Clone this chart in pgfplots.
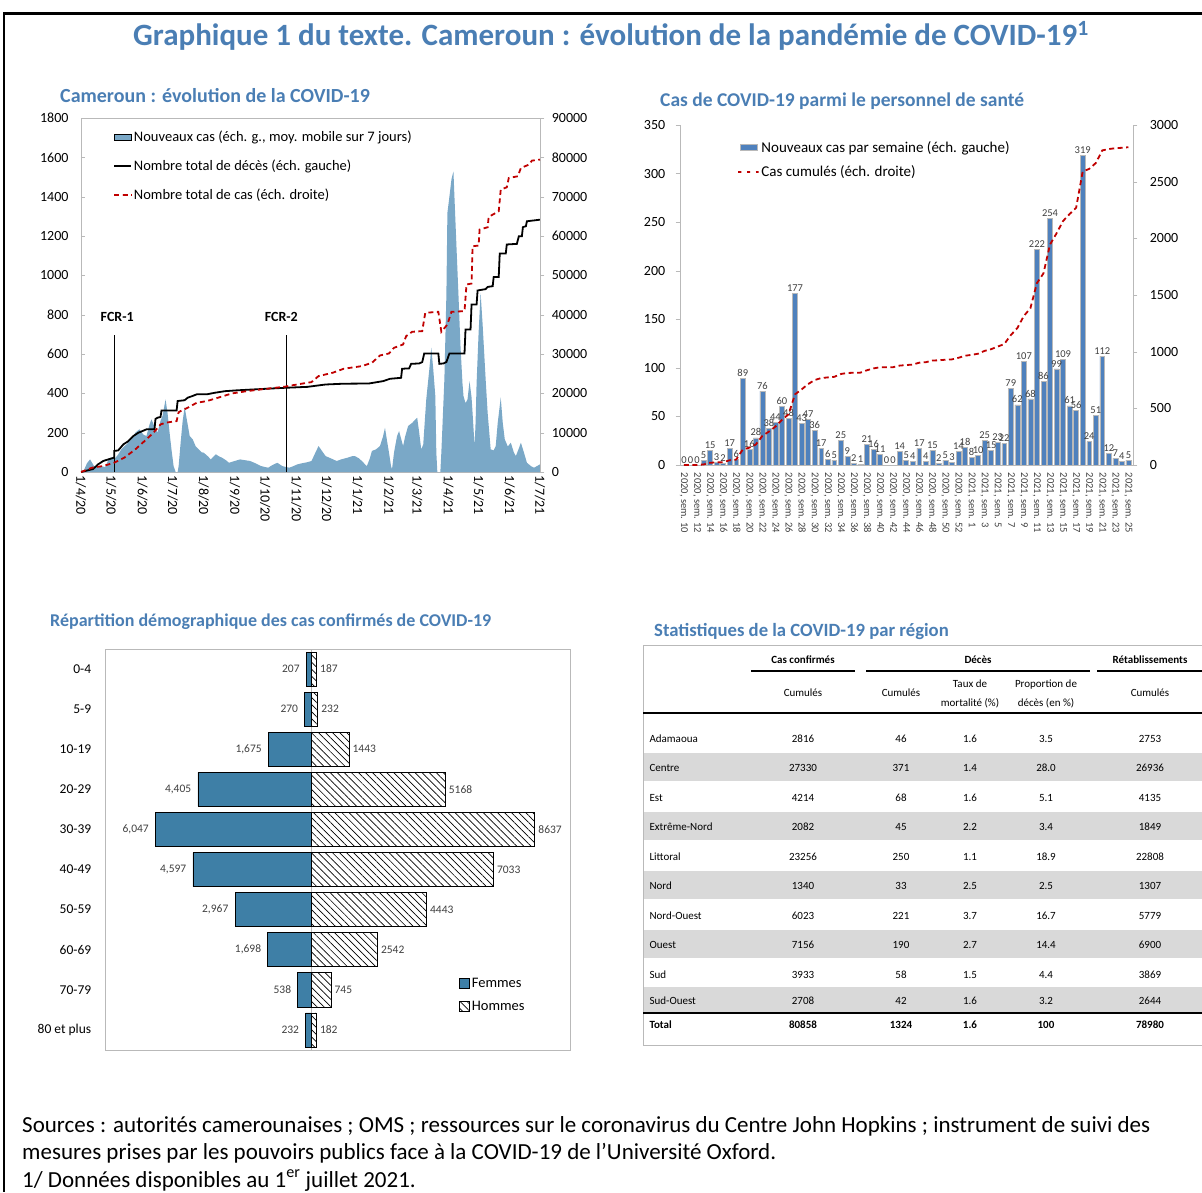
\documentclass[border=0pt]{standalone}
\usepackage{fontspec}
\setmainfont{Carlito}
\usepackage{pgfplots}
\pgfplotsset{compat=1.18}
\usetikzlibrary{patterns.meta}

\definecolor{titleblue}{RGB}{74,126,180}
\definecolor{areablue}{RGB}{122,168,199}
\definecolor{barblue}{RGB}{79,129,189}
\definecolor{femblue}{RGB}{62,127,166}
\definecolor{darkred}{RGB}{192,0,0}
\definecolor{axgray}{RGB}{185,185,185}
\definecolor{bandgray}{RGB}{217,217,217}
\definecolor{lblgray}{RGB}{64,64,64}

\newcommand{\fsz}[2]{\fontsize{#1}{#2}\selectfont}

\pgfplotsset{
  /pgf/number format/assume math mode=true,
  every axis/.append style={
    scale only axis,
    axis line style={axgray},
    tick style={axgray},
    tick label style={font=\fsz{14}{16}},
    scaled y ticks=false,
    yticklabel style={/pgf/number format/fixed,/pgf/number format/1000 sep={}},
  },
}

% table row: y, name, 5 values
\newcommand{\trow}[7]{%
  \node[anchor=base west] at (646pt,-#1pt) {#2};
  \node[anchor=base] at (803pt,-#1pt) {#3};
  \node[anchor=base] at (901pt,-#1pt) {#4};
  \node[anchor=base] at (970pt,-#1pt) {#5};
  \node[anchor=base] at (1046pt,-#1pt) {#6};
  \node[anchor=base] at (1150pt,-#1pt) {#7};
}

\begin{document}
\begin{tikzpicture}
\useasboundingbox (0pt,0pt) rectangle (1202pt,-1192pt);
\draw[line width=3pt] (3pt,-13pt) -- (1202pt,-13pt);
\draw[line width=1.5pt] (4pt,-12pt) -- (4pt,-1192pt);

\node[anchor=base, inner sep=0pt, font=\bfseries\fsz{31}{34}, text=titleblue] at (611pt,-45pt)
  {Graphique 1 du texte. Cameroun : évolution de la pandémie de COVID-19\textsuperscript{1}};

% ---------------- chart 1 ----------------
\node[anchor=base west, inner sep=0pt, font=\bfseries\fsz{20}{22}, text=titleblue] at (60pt,-102pt)
  {Cameroun : évolution de la COVID-19};

\begin{axis}[
  at={(81pt,-472pt)}, anchor=south west,
  width=459pt, height=354pt,
  xmin=0, xmax=456, ymin=0, ymax=1800,
  ytick={0,200,...,1800}, ytick pos=left,
  yticklabel style={xshift=-9pt},
  xtick={0,30,61,91,122,153,183,214,244,275,306,334,365,395,426,456},
  xticklabels={1/4/20,1/5/20,1/6/20,1/7/20,1/8/20,1/9/20,1/10/20,1/11/20,1/12/20,1/1/21,1/2/21,1/3/21,1/4/21,1/5/21,1/6/21,1/7/21},
  xtick pos=bottom,
  xticklabel style={rotate=-90, anchor=west},
  tick align=inside,
  legend style={at={(0.063,0.975)}, anchor=north west, draw=none, fill=none,
    font=\fsz{14.5}{16}, row sep=13pt},
  legend cell align=left,
]
\addplot[fill=areablue, draw=none, area legend] coordinates {
(0,0) (3,10) (6,45) (9,64) (13,30) (17,22) (20,30) (24,25) (27,60) (30,75) (33,64) (37,90)
(40,115) (45,140) (50,166) (54,200) (58,217) (62,190) (65,183) (68,240) (70,268) (73,230)
(76,200) (79,260) (81,285) (84,369) (86,300) (88,200) (90,110) (92,30) (94,0) (96,0)
(97,30) (99,150) (101,260) (103,330) (105,270) (108,183) (111,166) (114,130) (117,115)
(120,100) (122,98) (126,80) (129,64) (132,80) (134,90) (137,80) (140,73) (144,60) (147,47)
(152,55) (158,64) (163,60) (168,56) (173,45) (179,30) (183,25) (186,22) (190,35) (195,47)
(200,30) (204,25) (207,22) (211,30) (215,39) (220,45) (225,50) (229,56) (233,100) (236,132)
(239,110) (243,81) (248,70) (254,56) (259,65) (265,73) (269,80) (272,81) (276,70) (279,56)
(282,40) (284,30) (287,70) (289,107) (293,115) (297,132) (300,180) (302,225) (304,160)
(306,98) (308,30) (309,14) (311,100) (314,183) (316,208) (318,170) (320,132) (322,180)
(325,234) (329,250) (334,276) (336,200) (338,115) (340,140) (343,369) (346,520) (348,632)
(350,520) (352,386) (353,100) (354,0) (357,0) (358,100) (361,471) (363,900) (364,1317)
(366,1400) (368,1487) (370,1529) (371,1400) (373,1148) (375,900) (377,640) (379,450)
(380,386) (382,350) (384,369) (386,462) (388,380) (389,301) (391,132) (392,250) (393,450)
(395,708) (397,911) (399,750) (402,471) (404,300) (407,115) (410,110) (412,132) (414,250)
(417,378) (419,250) (421,166) (424,130) (427,149) (430,100) (432,81) (435,120) (437,149)
(440,100) (443,47) (447,30) (450,22) (453,30) (456,39)
} \closedcycle;
\addlegendentry{Nouveaux cas (éch. g., moy. mobile sur 7 jours)}
\addplot[black, line width=1.8pt] coordinates {
(0,0) (8,10) (12,15) (17,39) (22,56) (27,64) (33,73) (33,107) (37,110) (42,140) (47,157)
(52,183) (57,200) (61,208) (65,217) (73,217) (74,270) (76,276) (79,280) (80,313) (95,313)
(96,361) (103,365) (106,378) (110,385) (115,395) (125,395) (133,403) (143,411) (154,415)
(172,420) (202,428) (225,433) (243,445) (261,449) (286,450) (300,462) (307,474) (318,479)
(319,525) (326,527) (328,550) (336,552) (339,559) (341,603) (355,603) (356,550) (360,552)
(363,559) (366,603) (381,603) (382,725) (387,725) (388,852) (393,852) (394,923) (402,930)
(404,941) (409,945) (410,992) (415,992) (416,1111) (422,1111) (423,1157) (433,1160)
(435,1199) (438,1199) (439,1245) (442,1250) (443,1275) (456,1283)
};
\addlegendentry{Nombre total de décès (éch. gauche)}
\addlegendimage{line legend, darkred, line width=1.8pt, dash pattern=on 5pt off 3.5pt}
\addlegendentry{Nombre total de cas (éch. droite)}
\draw[black, line width=1.2pt] (axis cs:33,0) -- (axis cs:33,697);
\draw[black, line width=1.2pt] (axis cs:204,0) -- (axis cs:204,697);
\node[font=\bfseries\fsz{14}{16}] at (axis cs:36,790) {FCR-1};
\node[font=\bfseries\fsz{14}{16}] at (axis cs:199,790) {FCR-2};
\end{axis}

\begin{axis}[
  at={(81pt,-472pt)}, anchor=south west,
  width=459pt, height=354pt,
  xmin=0, xmax=456, ymin=0, ymax=90000,
  axis x line=none, axis y line*=right,
  ytick={0,10000,...,90000},
  yticklabel style={xshift=4pt},
  tick align=outside,
]
\addplot[darkred, line width=1.8pt, dash pattern=on 5pt off 3.5pt] coordinates {
(0,0) (11,1100) (22,1524) (33,2370) (43,3640) (54,5760) (65,8300) (72,10000) (77,11500)
(79,12100) (84,12530) (95,12950) (97,15200) (99,15500) (106,16340) (115,17610) (125,18030)
(136,18880) (150,19980) (165,20570) (179,21000) (202,21675) (215,22270) (229,22860)
(236,24385) (250,25230) (261,26250) (279,26925) (289,27770) (297,29630) (306,30140)
(311,31580) (320,32430) (323,34540) (329,35650) (339,35820) (342,40470) (355,40730)
(358,35650) (364,37500) (368,40730) (381,40900) (383,47670) (388,47920) (389,57400)
(395,57570) (396,61640) (404,62230) (405,64860) (415,66300) (417,71800) (423,72390)
(425,74760) (434,75190) (437,77300) (445,78150) (448,79170) (456,79420)
};
\end{axis}

% ---------------- chart 2 ----------------
\node[anchor=base west, inner sep=0pt, font=\bfseries\fsz{19.5}{22}, text=titleblue] at (660pt,-106pt)
  {Cas de COVID-19 parmi le personnel de santé};

\begin{axis}[
  at={(680pt,-465pt)}, anchor=south west,
  width=453pt, height=340pt,
  xmin=-0.6, xmax=68.7, ymin=0, ymax=350,
  axis x line*=bottom, axis y line*=left,
  ytick={0,50,...,350},
  yticklabel style={xshift=-7pt},
  tick align=outside,
  xtick={0,2,...,68},
  xticklabels={{2020, sem. 10},{2020, sem. 12},{2020, sem. 14},{2020, sem. 16},{2020, sem. 18},
    {2020, sem. 20},{2020, sem. 22},{2020, sem. 24},{2020, sem. 26},{2020, sem. 28},{2020, sem. 30},
    {2020, sem. 32},{2020, sem. 34},{2020, sem. 36},{2020, sem. 38},{2020, sem. 40},{2020, sem. 42},
    {2020, sem. 44},{2020, sem. 46},{2020, sem. 48},{2020, sem. 50},{2020, sem. 52},
    {2021, sem. 1},{2021, sem. 3},{2021, sem. 5},{2021, sem. 7},{2021, sem. 9},{2021, sem. 11},
    {2021, sem. 13},{2021, sem. 15},{2021, sem. 17},{2021, sem. 19},{2021, sem. 21},{2021, sem. 23},
    {2021, sem. 25}},
  xticklabel style={rotate=-90, anchor=west, font=\fsz{10.5}{12}, text=lblgray},
  xtick style={draw=none},
  ybar, bar width=0.75,
  nodes near coords,
  every node near coord/.append style={font=\fsz{10.5}{12}, text=lblgray, inner sep=1.5pt},
  legend style={at={(0.12,0.965)}, anchor=north west, draw=none, fill=none,
    font=\fsz{15}{17}, row sep=8pt},
  legend cell align=left,
]
\addplot[fill=barblue, draw=axgray, line width=0.5pt, area legend] coordinates {
(0,0) (1,0) (2,0) (3,5) (4,15) (5,3) (6,2) (7,17) (8,6) (9,89) (10,16) (11,28) (12,76)
(13,38) (14,44) (15,60) (16,48) (17,177) (18,43) (19,47) (20,36) (21,17) (22,6) (23,5)
(24,25) (25,9) (26,2) (27,1) (28,21) (29,16) (30,11) (31,0) (32,0) (33,14) (34,5) (35,4)
(36,17) (37,4) (38,15) (39,2) (40,5) (41,3) (42,14) (43,18) (44,8) (45,10) (46,25) (47,15)
(48,23) (49,22) (50,79) (51,62) (52,107) (53,68) (54,222) (55,86) (56,254) (57,99) (58,109)
(59,61) (60,56) (61,319) (62,24) (63,51) (64,112) (65,12) (66,7) (67,4) (68,5)
};
\addlegendentry{Nouveaux cas par semaine (éch. gauche)}
\addlegendimage{line legend, darkred, line width=1.8pt, dash pattern=on 5pt off 3.5pt}
\addlegendentry{Cas cumulés (éch. droite)}
\end{axis}

\begin{axis}[
  at={(680pt,-465pt)}, anchor=south west,
  width=453pt, height=340pt,
  xmin=-0.6, xmax=68.7, ymin=0, ymax=3000,
  axis x line=none, axis y line*=right,
  ytick={0,500,...,3000},
  yticklabel style={xshift=9pt},
  tick align=outside,
]
\addplot[darkred, line width=1.8pt, dash pattern=on 5pt off 3.5pt] coordinates {
(0,0) (1,0) (2,0) (3,5) (4,20) (5,23) (6,25) (7,42) (8,48) (9,137) (10,153) (11,181)
(12,257) (13,295) (14,339) (15,399) (16,447) (17,624) (18,667) (19,714) (20,750) (21,767)
(22,773) (23,778) (24,803) (25,812) (26,814) (27,815) (28,836) (29,852) (30,863) (31,863)
(32,863) (33,877) (34,882) (35,886) (36,903) (37,907) (38,922) (39,924) (40,929) (41,932)
(42,946) (43,964) (44,972) (45,982) (46,1007) (47,1022) (48,1045) (49,1067) (50,1146)
(51,1208) (52,1315) (53,1383) (54,1605) (55,1691) (56,1945) (57,2044) (58,2153) (59,2214)
(60,2270) (61,2589) (62,2613) (63,2664) (64,2776) (65,2788) (66,2795) (67,2799) (68,2804)
};
\end{axis}

% ---------------- chart 3 ----------------
\node[anchor=base west, inner sep=0pt, font=\bfseries\fsz{18}{20}, text=titleblue] at (50pt,-626pt)
  {Répartition démographique des cas confirmés de COVID-19};

\begin{axis}[
  at={(105pt,-1050pt)}, anchor=south west,
  width=465pt, height=401pt,
  xmin=-8000, xmax=10000, ymin=-0.5, ymax=9.5,
  xbar, bar width=0.85,
  xtick=\empty,
  ytick={0,...,9},
  yticklabels={80 et plus,70-79,60-69,50-59,40-49,30-39,20-29,10-19,5-9,0-4},
  yticklabel style={font=\fsz{13.5}{15}, xshift=-6pt},
  ytick style={draw=none},
  extra x ticks={0}, extra x tick labels={},
  extra x tick style={grid=major, major grid style={axgray, line width=0.8pt}, tick style={draw=none}},
  point meta=explicit symbolic,
  nodes near coords,
  legend style={at={(0.755,0.19)}, anchor=north west, draw=none, fill=none,
    font=\fsz{14.5}{16}, row sep=8pt},
  legend cell align=left,
  legend image code/.code={\draw[#1, line width=0.6pt] (0pt,-5pt) rectangle (10pt,5pt);},
]
\addplot[fill=femblue, draw=black, line width=0.7pt, bar shift=0pt,
  every node near coord/.append style={anchor=east, font=\fsz{11.5}{13}, text=lblgray, xshift=-3pt}]
  coordinates {
  (-232,0) [232] (-538,1) [538] (-1698,2) [{1,698}] (-2967,3) [{2,967}] (-4597,4) [{4,597}]
  (-6047,5) [{6,047}] (-4405,6) [{4,405}] (-1675,7) [{1,675}] (-270,8) [270] (-207,9) [207]
};
\addlegendentry{Femmes}
\addplot[pattern={Lines[angle=-45,distance=5pt,line width=0.7pt]}, draw=black, line width=0.7pt,
  bar shift=0pt,
  every node near coord/.append style={anchor=west, font=\fsz{11.5}{13}, text=lblgray}]
  coordinates {
  (182,0) [182] (745,1) [745] (2542,2) [2542] (4443,3) [4443] (7033,4) [7033]
  (8637,5) [8637] (5168,6) [5168] (1443,7) [1443] (232,8) [232] (187,9) [187]
};
\addlegendentry{Hommes}
\end{axis}

% ---------------- table ----------------
\node[anchor=base west, inner sep=0pt, font=\bfseries\fsz{18.7}{21}, text=titleblue] at (654pt,-636pt)
  {Statistiques de la COVID-19 par région};
\draw[axgray, line width=0.8pt] (643pt,-645pt) rectangle (1202pt,-1045pt);
\foreach \ya/\yb in {753/781, 812/840, 871/899, 930/958, 987/1013}
  \fill[bandgray] (644pt,-\ya pt) rectangle (1202pt,-\yb pt);
\begin{scope}[font=\fsz{11}{13}]
\node[anchor=base, font=\bfseries\fsz{11}{13}] at (803pt,-663pt) {Cas confirmés};
\node[anchor=base, font=\bfseries\fsz{11}{13}] at (978pt,-663pt) {Décès};
\node[anchor=base, font=\bfseries\fsz{11}{13}] at (1150pt,-663pt) {Rétablissements};
\draw[line width=2pt] (751pt,-671pt) -- (855pt,-671pt);
\draw[line width=2pt] (866pt,-671pt) -- (1090pt,-671pt);
\draw[line width=2pt] (1097pt,-671pt) -- (1202pt,-671pt);
\node[anchor=base] at (803pt,-696pt) {Cumulés};
\node[anchor=base] at (901pt,-696pt) {Cumulés};
\node[anchor=base] at (1150pt,-696pt) {Cumulés};
\node[anchor=base] at (970pt,-687pt) {Taux de};
\node[anchor=base] at (970pt,-706pt) {mortalité (\%)};
\node[anchor=base] at (1046pt,-687pt) {Proportion de};
\node[anchor=base] at (1046pt,-706pt) {décès (en \%)};
\draw[line width=2.5pt] (643pt,-713pt) -- (1202pt,-713pt);
\trow{742}{Adamaoua}{2816}{46}{1.6}{3.5}{2753}
\trow{771}{Centre}{27330}{371}{1.4}{28.0}{26936}
\trow{801}{Est}{4214}{68}{1.6}{5.1}{4135}
\trow{830}{Extrême-Nord}{2082}{45}{2.2}{3.4}{1849}
\trow{860}{Littoral}{23256}{250}{1.1}{18.9}{22808}
\trow{889}{Nord}{1340}{33}{2.5}{2.5}{1307}
\trow{919}{Nord-Ouest}{6023}{221}{3.7}{16.7}{5779}
\trow{948}{Ouest}{7156}{190}{2.7}{14.4}{6900}
\trow{978}{Sud}{3933}{58}{1.5}{4.4}{3869}
\trow{1004}{Sud-Ouest}{2708}{42}{1.6}{3.2}{2644}
\draw[line width=2pt] (643pt,-1013pt) -- (1202pt,-1013pt);
\end{scope}
\begin{scope}[font=\bfseries\fsz{11}{13}]
\trow{1028}{Total}{80858}{1324}{1.6}{100}{78980}
\end{scope}

% ---------------- notes ----------------
\begin{scope}[font=\fsz{23}{26}]
\node[anchor=base west, inner sep=0pt] at (22pt,-1132pt)
  {Sources : autorités camerounaises ; OMS ; ressources sur le coronavirus du Centre John Hopkins ; instrument de suivi des};
\node[anchor=base west, inner sep=0pt] at (22pt,-1159pt)
  {mesures prises par les pouvoirs publics face à la COVID-19 de l’Université Oxford.};
\node[anchor=base west, inner sep=0pt] at (22pt,-1187pt)
  {1/ Données disponibles au 1\textsuperscript{er} juillet 2021.};
\end{scope}
\end{tikzpicture}
\end{document}
